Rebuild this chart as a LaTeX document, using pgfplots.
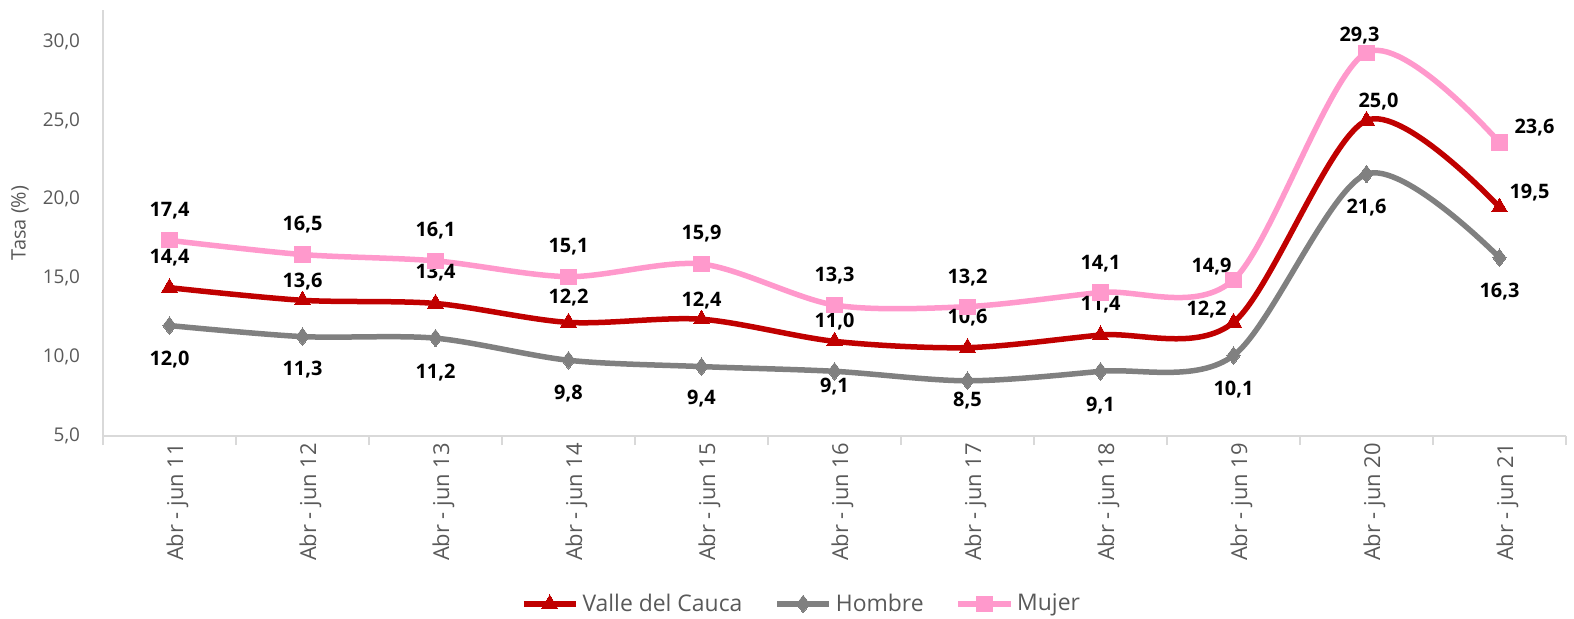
\documentclass[border=0pt]{standalone}
\usepackage{fontspec}
\setmainfont{Open Sans}
\usepackage{pgfplots}
\usepackage{pgfplotstable}
\pgfplotsset{compat=1.18}

\definecolor{valle}{HTML}{C00000}
\definecolor{hombre}{HTML}{808080}
\definecolor{mujer}{HTML}{FF99CC}
\definecolor{axisgray}{HTML}{D9D9D9}
\definecolor{txtgray}{HTML}{595959}

% x = period index, dx/dy = label offset (bp)
\pgfplotstableread{
x y dx dy
0 14.4 0 15
1 13.6 0 9.5
2 13.4 0 15.5
3 12.2 0 12.5
4 12.4 0 9.5
5 11.0 0 10
6 10.6 0 15
7 11.4 0 15
8 12.2 -13.5 6.5
9 25.0 6 9.5
10 19.5 15 7.5
}\valle

\pgfplotstableread{
x y dx dy
0 12.0 0 -17
1 11.3 0 -16.5
2 11.2 0 -17
3 9.8 0 -16.5
4 9.4 0 -16
5 9.1 0 -7.5
6 8.5 0 -10
7 9.1 0 -17
8 10.1 0 -17
9 21.6 0 -16.5
10 16.3 0 -17
}\hombre

\pgfplotstableread{
x y dx dy
0 17.4 0 15
1 16.5 0 15
2 16.1 0 15
3 15.1 0 15
4 15.9 0 15
5 13.3 0 14.5
6 13.2 0 14.5
7 14.1 0 14.5
8 14.9 -11 6.5
9 29.3 -3.5 8.5
10 23.6 17.5 7.5
}\mujer

\begin{document}
\begin{tikzpicture}
\begin{axis}[
scale only axis,
width=731.5bp, height=213bp,
xmin=-0.5, xmax=10.5,
ymin=5, ymax=32,
axis x line*=bottom, axis y line*=left,
axis line style={draw=axisgray, line width=0.75bp, -},
xtick={0,...,10},
xticklabels={Abr - jun 11,Abr - jun 12,Abr - jun 13,Abr - jun 14,Abr - jun 15,Abr - jun 16,Abr - jun 17,Abr - jun 18,Abr - jun 19,Abr - jun 20,Abr - jun 21},
minor xtick={-0.5,0.5,...,10.5},
ytick={5,10,...,30},
major tick length=0pt,
minor tick length=4.5bp,
tick align=outside,
minor tick style={draw=axisgray, line width=0.75bp},
xticklabel style={rotate=90, anchor=east, yshift=-4bp, font=\fontsize{11}{12}\selectfont, text=txtgray},
yticklabel style={xshift=-8bp, font=\fontsize{9.5}{11}\selectfont, text=txtgray},
/pgf/number format/.cd, fixed, fixed zerofill, precision=1, use comma, assume math mode=true,
/pgfplots/.cd,
ylabel={Tasa (\%)},
ylabel style={at={(rel axis cs:0,0.5)}, anchor=center, rotate=0, yshift=41.5bp, font=\fontsize{10}{12}\selectfont, text=txtgray},
legend columns=3,
legend style={draw=none, fill=none, at={(rel axis cs:0.5,0)}, anchor=center, yshift=-84bp, xshift=-16bp,
  font=\fontsize{11.5}{13}\selectfont, text=txtgray,
  /tikz/every even column/.append style={column sep=14bp}},
legend image code/.code={\draw[mark repeat=2,mark phase=2,#1] plot coordinates {(0bp,0bp) (13bp,0bp) (26bp,0bp)};},
every axis plot/.append style={line width=2.75bp, smooth, tension=0.5},
nodes near coords,
point meta=y,
visualization depends on={\thisrow{dx}\as\dx},
visualization depends on={\thisrow{dy}\as\dy},
every node near coord/.append style={anchor=center, xshift=\dx bp, yshift=\dy bp, font=\bfseries\fontsize{10}{12}\selectfont, text=black},
]
\coordinate (O) at (rel axis cs:0,0);
\addplot[color=valle, mark=triangle*, mark size=4.6bp, mark options={solid, line width=0pt}] table[x=x,y=y]{\valle};
\addlegendentry{Valle del Cauca}
\addplot[color=hombre, mark=diamond*, mark size=4.4bp, mark options={solid, line width=0pt}] table[x=x,y=y]{\hombre};
\addlegendentry{Hombre}
\addplot[color=mujer, mark=square*, mark size=3.8bp, mark options={solid, line width=0pt}] table[x=x,y=y]{\mujer};
\addlegendentry{Mujer}
\end{axis}
\pgfresetboundingbox
\path[use as bounding box] (O) ++(-51.5bp,-91.5bp) rectangle ++(787bp,309.5bp);
\end{tikzpicture}
\end{document}
